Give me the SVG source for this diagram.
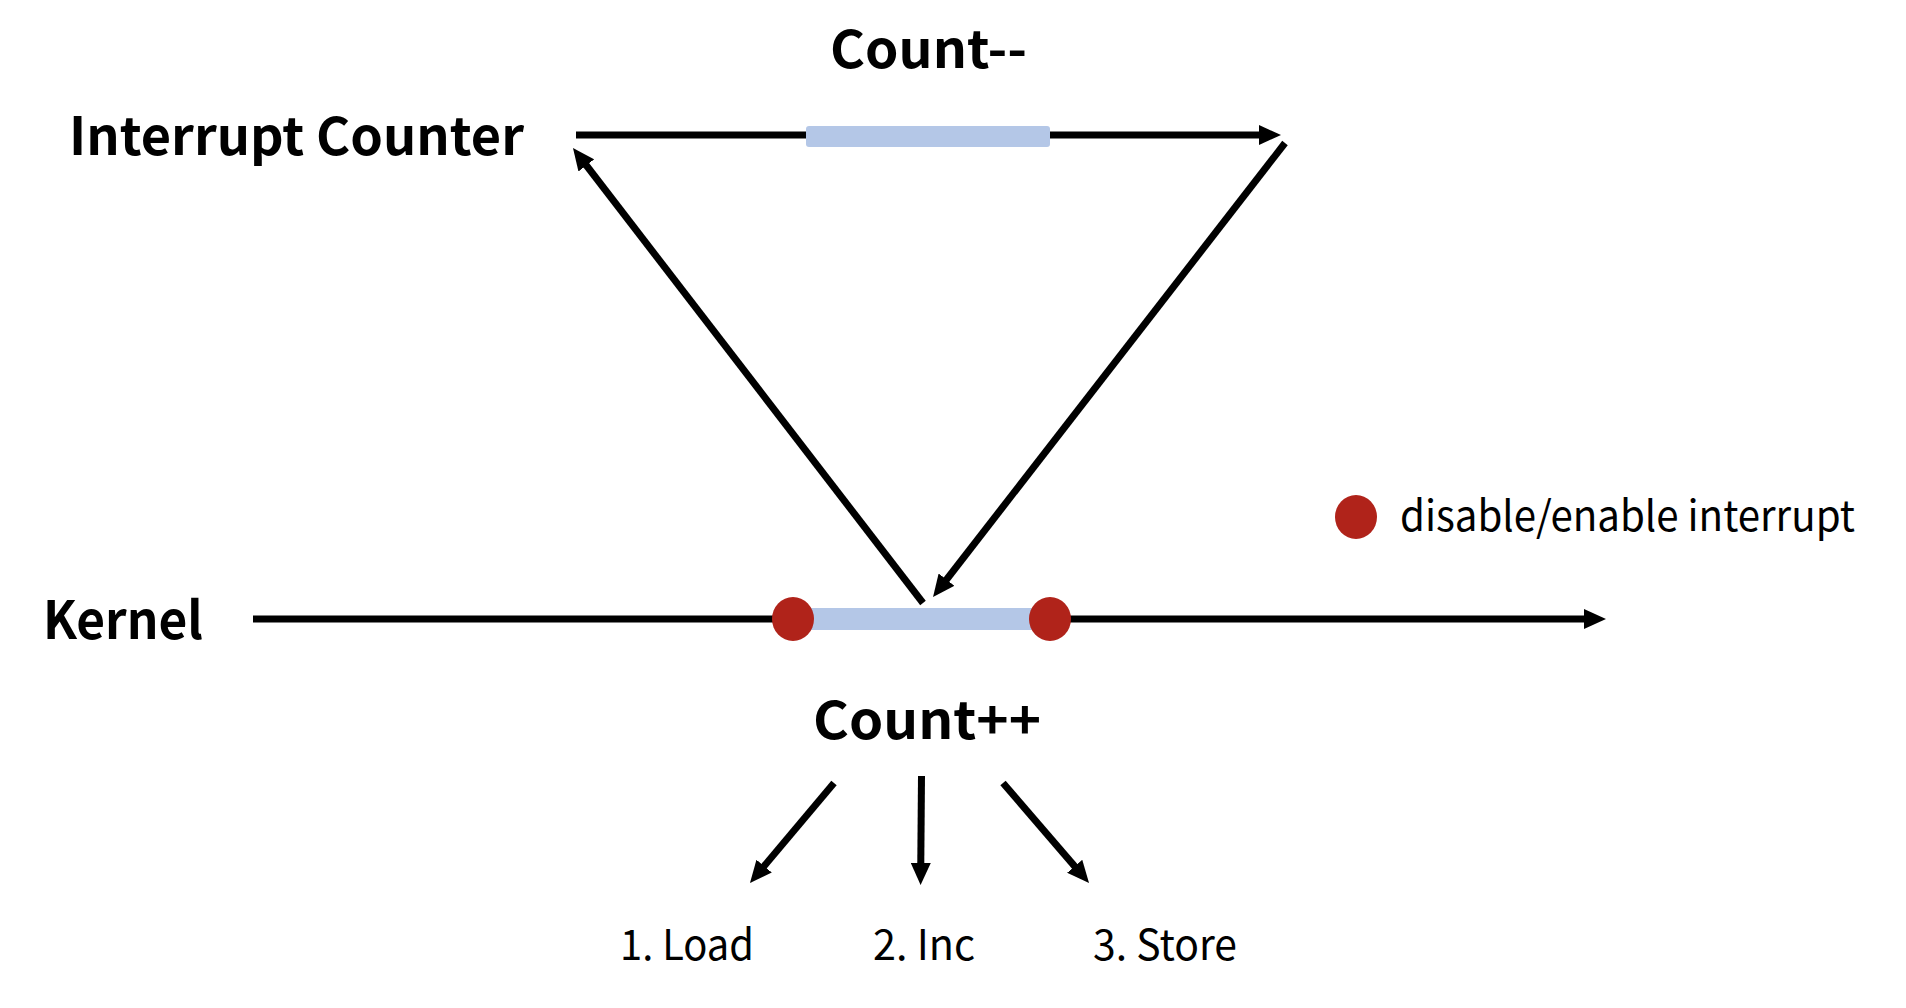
<svg xmlns="http://www.w3.org/2000/svg" width="1906" height="1008" viewBox="0 0 1906 1008">
<style>
.bold{font-family:"Noto Sans CJK KR","Noto Sans",sans-serif;font-weight:bold;font-size:52px;fill:#000}
.reg{font-family:"Noto Sans CJK KR","Noto Sans",sans-serif;font-weight:normal;font-size:42px;fill:#000}
.ln{stroke:#000;stroke-width:7;fill:none}
.bar{fill:#B4C7E7}
.dot{fill:#B0231A}
</style>
<defs>
<marker id="ah" markerUnits="userSpaceOnUse" markerWidth="22" markerHeight="20" refX="10" refY="10" orient="auto" viewBox="0 0 22 20">
<path d="M0,0 L22,10 L0,20 z" fill="#000"/>
</marker>
</defs>
<rect width="1906" height="1008" fill="#fff"/>
<g id="connectors">
<line class="ln" x1="576" y1="135" x2="1269" y2="135" marker-end="url(#ah)"/>
<line class="ln" x1="253" y1="619" x2="1594" y2="619" marker-end="url(#ah)"/>
<line class="ln" x1="923" y1="603" x2="580.3" y2="157.5" marker-end="url(#ah)"/>
<line class="ln" x1="1285" y1="143" x2="940.4" y2="587.5" marker-end="url(#ah)"/>
<line class="ln" x1="834" y1="783" x2="757.7" y2="873.8" marker-end="url(#ah)"/>
<line class="ln" x1="921.5" y1="776" x2="920.7" y2="873" marker-end="url(#ah)"/>
<line class="ln" x1="1003" y1="783" x2="1081.2" y2="873.9" marker-end="url(#ah)"/>
</g>
<g id="interrupt-counter">
<text class="bold" x="69" y="155" textLength="455" lengthAdjust="spacingAndGlyphs">Interrupt Counter</text>
</g>
<g id="count-minus">
<rect class="bar" x="806" y="126" width="244" height="21" rx="3"/>
<text class="bold" x="830" y="68" textLength="197" lengthAdjust="spacingAndGlyphs">Count--</text>
</g>
<g id="kernel">
<text class="bold" x="43" y="639" textLength="160" lengthAdjust="spacingAndGlyphs">Kernel</text>
</g>
<g id="count-plus">
<rect class="bar" x="793" y="608" width="257" height="22"/>
<ellipse class="dot" cx="793" cy="619" rx="21" ry="22"/>
<ellipse class="dot" cx="1050" cy="619" rx="21" ry="22"/>
<text class="bold" x="813" y="739" textLength="228" lengthAdjust="spacingAndGlyphs">Count++</text>
</g>
<g id="legend">
<ellipse class="dot" cx="1356" cy="517" rx="21" ry="22"/>
<text class="reg" x="1400" y="531" textLength="455" lengthAdjust="spacingAndGlyphs">disable/enable interrupt</text>
</g>
<g id="load">
<text class="reg" x="620" y="960" textLength="134" lengthAdjust="spacingAndGlyphs">1. Load</text>
</g>
<g id="inc">
<text class="reg" x="873" y="960" textLength="102" lengthAdjust="spacingAndGlyphs">2. Inc</text>
</g>
<g id="store">
<text class="reg" x="1093" y="960" textLength="144" lengthAdjust="spacingAndGlyphs">3. Store</text>
</g>
</svg>
